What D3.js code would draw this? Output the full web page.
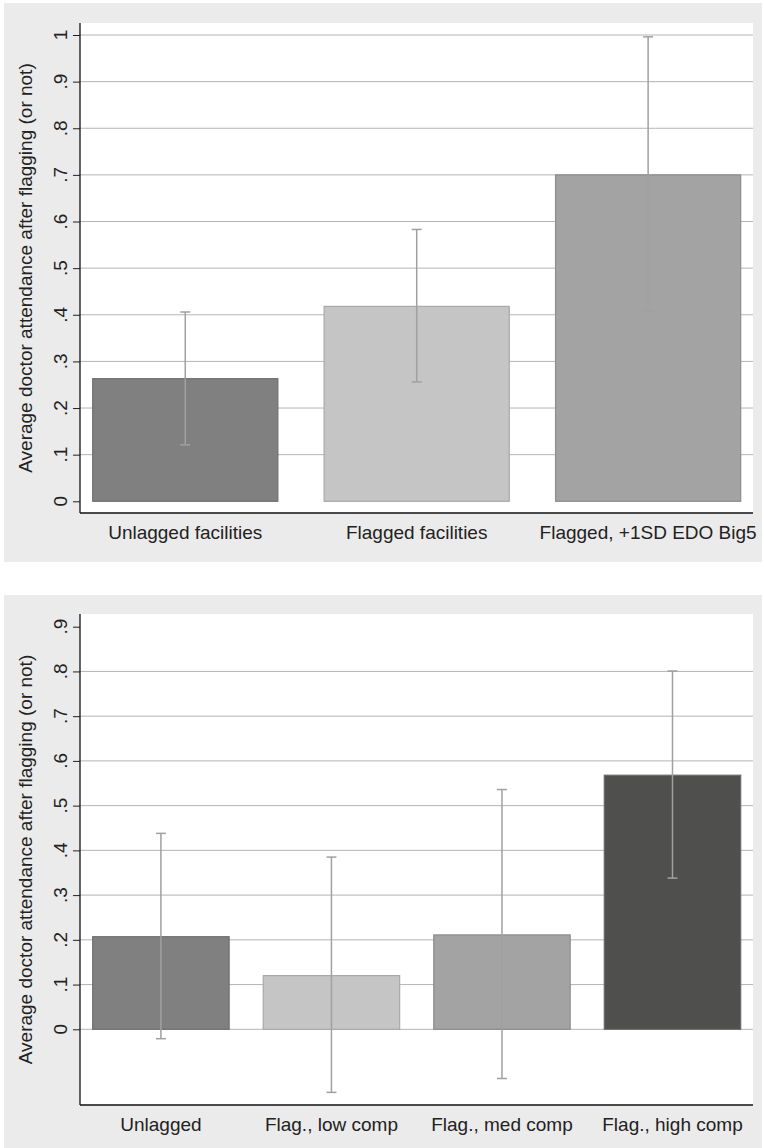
<!DOCTYPE html>
<html>
<head>
<meta charset="utf-8">
<script src="https://cdn.jsdelivr.net/npm/d3@7"></script>
<style>
  html, body { margin: 0; padding: 0; background: #ffffff; }
  svg { display: block; }
  text { font-family: "Liberation Sans", Arial, Helvetica, sans-serif; fill: #222; }
</style>
</head>
<body>
<div id="chart"></div>
<script>
// ---- Data ----
const topCategories = ["Unlagged facilities", "Flagged facilities", "Flagged, +1SD EDO Big5"];
const topMeans = [0.263, 0.418, 0.700];
const topLower = [0.121, 0.256, 0.408];
const topUpper = [0.406, 0.583, 0.996];
const topTicks = [0, 0.1, 0.2, 0.3, 0.4, 0.5, 0.6, 0.7, 0.8, 0.9, 1];
const topGrid = [0.1, 0.2, 0.3, 0.4, 0.5, 0.6, 0.7, 0.8, 0.9, 1];

const botCategories = ["Unlagged", "Flag., low comp", "Flag., med comp", "Flag., high comp"];
const botMeans = [0.207, 0.120, 0.211, 0.568];
const botLower = [-0.021, -0.141, -0.110, 0.338];
const botUpper = [0.438, 0.385, 0.536, 0.801];
const botTicks = [0, 0.1, 0.2, 0.3, 0.4, 0.5, 0.6, 0.7, 0.8, 0.9];
const botGrid = [0, 0.1, 0.2, 0.3, 0.4, 0.5, 0.6, 0.7, 0.8];

const barFills = ["#808080", "#c4c5c4", "#a2a3a2", "#4f4f4d"];
const barStrokes = ["#6e6e6e", "#a8a9a8", "#8b8c8b", "#6a6a68"];
const yTitle = "Average doctor attendance after flagging (or not)";

// ---- Layout ----
const W = 764, H = 1148;
const svg = d3.select("#chart").append("svg").attr("width", W).attr("height", H);

function fmt(v) {
  if (v === 0) return "0";
  if (v === 1) return "1";
  return d3.format(".1f")(v).replace(/^0/, "");
}

function panel(opts) {
  const g = svg.append("g");
  // gray background
  g.append("rect").attr("x", opts.bg[0]).attr("y", opts.bg[1])
    .attr("width", opts.bg[2]).attr("height", opts.bg[3]).attr("fill", "#ebebeb");
  const left = 80, right = 753;
  // white plot region
  g.append("rect").attr("x", left).attr("y", opts.plotTop)
    .attr("width", right - left).attr("height", opts.plotBottom - opts.plotTop).attr("fill", "#ffffff");

  const y = d3.scaleLinear().domain(opts.yDomain).range(opts.yRange);
  const x = d3.scaleBand().domain(opts.categories).range([92.7, 740.7]).paddingInner(0.2).paddingOuter(0);

  // gridlines
  g.append("g").selectAll("line").data(opts.grid).join("line")
    .attr("x1", left).attr("x2", right)
    .attr("y1", d => y(d)).attr("y2", d => y(d))
    .attr("stroke", "#b4b4b4").attr("stroke-width", 1);

  // bars
  g.append("g").selectAll("rect").data(opts.means).join("rect")
    .attr("x", (d, i) => x(opts.categories[i]))
    .attr("width", x.bandwidth())
    .attr("y", d => y(d))
    .attr("height", d => y(0) - y(d))
    .attr("fill", (d, i) => barFills[i])
    .attr("stroke", (d, i) => barStrokes[i])
    .attr("stroke-width", 1.2);

  // error bars
  const eb = g.append("g").attr("stroke", "#a0a0a0").attr("stroke-width", 1.5);
  opts.categories.forEach((c, i) => {
    const cx = x(c) + x.bandwidth() / 2;
    eb.append("line").attr("x1", cx).attr("x2", cx)
      .attr("y1", y(opts.upper[i])).attr("y2", y(opts.lower[i]));
    eb.append("line").attr("x1", cx - 5).attr("x2", cx + 5)
      .attr("y1", y(opts.upper[i])).attr("y2", y(opts.upper[i]));
    eb.append("line").attr("x1", cx - 5).attr("x2", cx + 5)
      .attr("y1", y(opts.lower[i])).attr("y2", y(opts.lower[i]));
  });

  // y axis
  const yAxis = d3.axisLeft(y).tickValues(opts.ticks).tickSize(7).tickPadding(0).tickFormat(() => "");
  const ya = g.append("g").attr("transform", `translate(${left},0)`).call(yAxis);
  ya.select(".domain").remove();
  ya.selectAll(".tick line").attr("stroke", "#222").attr("stroke-width", 1);
  g.append("line").attr("x1", left).attr("x2", left)
    .attr("y1", opts.plotTop).attr("y2", opts.plotBottom)
    .attr("stroke", "#111").attr("stroke-width", 1.3);
  // rotated tick labels
  g.append("g").selectAll("text").data(opts.ticks).join("text")
    .attr("transform", d => `translate(60,${y(d)}) rotate(-90)`)
    .attr("text-anchor", "middle")
    .attr("dominant-baseline", "central")
    .style("font-size", "19px")
    .text(fmt);

  // x axis line (bottom)
  const xAxis = d3.axisBottom(x).tickSize(0).tickPadding(0).tickFormat(() => "");
  const xa = g.append("g").attr("transform", `translate(0,${opts.plotBottom})`).call(xAxis);
  xa.select(".domain").remove();
  g.append("line").attr("x1", left).attr("x2", right)
    .attr("y1", opts.plotBottom).attr("y2", opts.plotBottom)
    .attr("stroke", "#111").attr("stroke-width", 1.3);
  // category labels
  g.append("g").selectAll("text").data(opts.categories).join("text")
    .attr("x", d => x(d) + x.bandwidth() / 2)
    .attr("y", opts.plotBottom + 19)
    .attr("text-anchor", "middle")
    .attr("dominant-baseline", "central")
    .style("font-size", "19px")
    .text(d => d);

  // y title
  g.append("text")
    .attr("transform", `translate(25,${(opts.plotTop + opts.plotBottom) / 2}) rotate(-90)`)
    .attr("text-anchor", "middle")
    .attr("dominant-baseline", "central")
    .style("font-size", "19px")
    .text(yTitle);
}

panel({
  bg: [4, 3, 758, 559],
  plotTop: 23, plotBottom: 513,
  yDomain: [0, 1], yRange: [501.3, 35],
  categories: topCategories, means: topMeans, lower: topLower, upper: topUpper,
  ticks: topTicks, grid: topGrid
});

panel({
  bg: [4, 595, 758, 553],
  plotTop: 614, plotBottom: 1105,
  yDomain: [0, 0.9], yRange: [1029.3, 626.7],
  categories: botCategories, means: botMeans, lower: botLower, upper: botUpper,
  ticks: botTicks, grid: botGrid
});
</script>
</body>
</html>
